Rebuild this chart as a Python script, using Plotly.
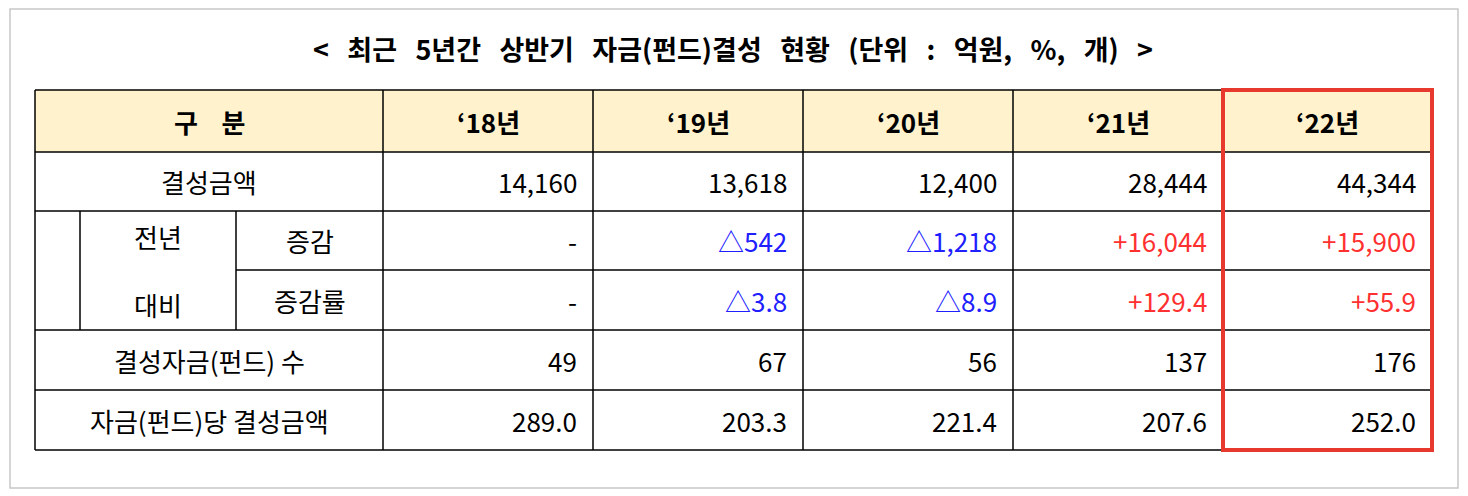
import plotly.graph_objects as go

title = "< 최근 5년간 상반기 자금(펀드)결성 현황 (단위 : 억원, %, 개) >"
years = ["‘18년", "‘19년", "‘20년", "‘21년", "‘22년"]
row_labels = ["결성금액", "증감", "증감률", "결성자금(펀드) 수", "자금(펀드)당 결성금액"]
amount = ["14,160", "13,618", "12,400", "28,444", "44,344"]
change = ["-", "△542", "△1,218", "+16,044", "+15,900"]
change_rate = ["-", "△3.8", "△8.9", "+129.4", "+55.9"]
fund_count = ["49", "67", "56", "137", "176"]
per_fund = ["289.0", "203.3", "221.4", "207.6", "252.0"]
rows = [amount, change, change_rate, fund_count, per_fund]

W, H = 1468, 496
off = 8  # the page adds a body margin
xs = [35 - off, 383 - off, 593 - off, 803 - off, 1013 - off, 1223 - off, 1432 - off]
ys = [90 - off, 152 - off, 211 - off, 270 - off, 330 - off, 390 - off, 450 - off]
x_in1, x_in2 = 80 - off, 236 - off
FONT = "Noto Sans CJK KR"
line = dict(color="black", width=1.5)

fig = go.Figure()
shapes = []
ann = []

shapes.append(dict(type="rect", x0=10 - off, x1=1458 - off, y0=8 - off + 1, y1=488 - off,
                   line=dict(color="#c8c8c8", width=1.5)))
shapes.append(dict(type="rect", x0=xs[0], x1=xs[-1], y0=ys[0], y1=ys[1], fillcolor="#FFF2CC",
                   line_width=0, layer="below"))

for i, y in enumerate(ys):
    x0 = x_in2 if i == 3 else xs[0]
    shapes.append(dict(type="line", x0=x0, x1=xs[-1], y0=y, y1=y, line=line))
for x in xs:
    shapes.append(dict(type="line", x0=x, x1=x, y0=ys[0], y1=ys[-1], line=line))
shapes.append(dict(type="line", x0=x_in1, x1=x_in1, y0=ys[2], y1=ys[4], line=line))
shapes.append(dict(type="line", x0=x_in2, x1=x_in2, y0=ys[2], y1=ys[4], line=line))
shapes.append(dict(type="rect", x0=xs[5], x1=xs[6], y0=ys[0], y1=ys[-1], line=dict(color="#E8392F", width=4)))

def text(x, y, s, size=26, color="black", bold=False, anchor="center"):
    ann.append(dict(x=x, y=y, text=f"<b>{s}</b>" if bold else s, showarrow=False, xanchor=anchor,
                    yanchor="middle", font=dict(family=FONT, size=size, color=color)))

text(733 - off, 48 - off, title.replace(" ", "&nbsp;&nbsp;&nbsp;"), size=27, bold=True)
text((xs[0] + xs[1]) / 2, (ys[0] + ys[1]) / 2, "구&nbsp;&nbsp;&nbsp;&nbsp;분", bold=True)
for j, yr in enumerate(years):
    text((xs[j + 1] + xs[j + 2]) / 2, (ys[0] + ys[1]) / 2, yr, bold=True)

label_x = [(xs[0] + xs[1]) / 2, (x_in2 + xs[1]) / 2, (x_in2 + xs[1]) / 2, (xs[0] + xs[1]) / 2, (xs[0] + xs[1]) / 2]
for i, lab in enumerate(row_labels):
    yc = (ys[i + 1] + ys[i + 2]) / 2
    text(label_x[i], yc, lab)
    for j, v in enumerate(rows[i]):
        c = "#2020FF" if v.startswith("△") else "#FF3030" if v.startswith("+") else "black"
        text(xs[j + 2] - 14, yc, v, color=c, anchor="right")
text((x_in1 + x_in2) / 2, (ys[2] + ys[4]) / 2, "전년<br><br>대비", size=26)

fig.update_layout(width=W, height=H, margin=dict(l=0, r=0, t=0, b=0), plot_bgcolor="white",
                  paper_bgcolor="white", shapes=shapes, annotations=ann, showlegend=False,
                  xaxis=dict(range=[0, W], visible=False, fixedrange=True),
                  yaxis=dict(range=[H, 0], visible=False, fixedrange=True))
fig.write_html("out.html")
